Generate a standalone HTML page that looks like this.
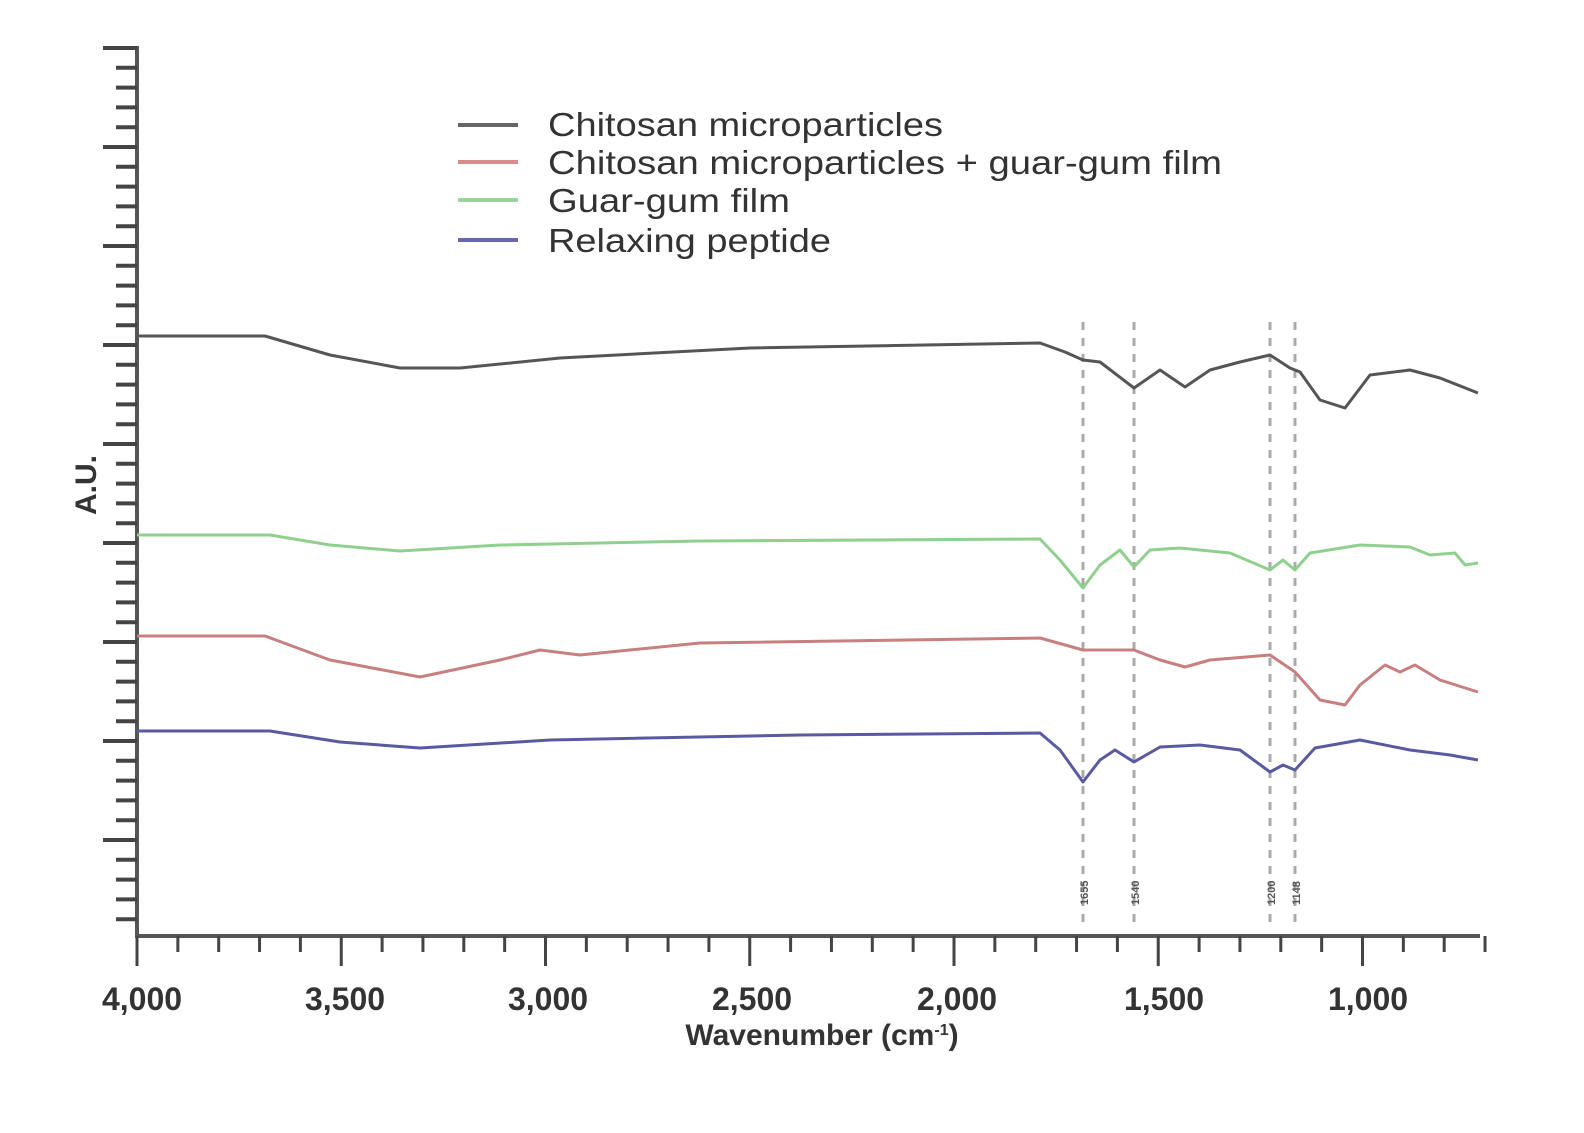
<!DOCTYPE html>
<html><head><meta charset="utf-8"><style>
html,body{margin:0;padding:0;background:#fff;}
svg{display:block;font-family:"Liberation Sans",Arial,sans-serif;}
</style></head><body>
<svg width="1584" height="1133" viewBox="0 0 1584 1133" xmlns="http://www.w3.org/2000/svg">
<rect width="1584" height="1133" fill="#fff"/>
<g stroke="#555" stroke-width="4" fill="none">
<line x1="137" y1="46" x2="137" y2="937"/>
<line x1="135" y1="936" x2="1480" y2="936"/>
</g>
<g id="yt" stroke="#444" stroke-width="4"></g>
<g id="xt" stroke="#444" stroke-width="3"></g>
<g stroke="#aaa" stroke-width="3" stroke-dasharray="8,8">
<line x1="1083" y1="322" x2="1083" y2="930"/>
<line x1="1134" y1="322" x2="1134" y2="930"/>
<line x1="1270" y1="322" x2="1270" y2="930"/>
<line x1="1295" y1="322" x2="1295" y2="930"/>
</g>
<g font-size="11" fill="#555" font-weight="bold">
<text transform="translate(1088,905) rotate(-90)">1655</text>
<text transform="translate(1139,905) rotate(-90)">1540</text>
<text transform="translate(1275,905) rotate(-90)">1200</text>
<text transform="translate(1300,905) rotate(-90)">1148</text>
</g>
<g fill="none" stroke-width="3" stroke-linejoin="round">
<polyline stroke="#555" points="137,336 265,336 330,355 400,368 460,368 560,358 750,348 1040,343 1065,352 1083,360 1100,362 1134,388 1160,370 1185,387 1210,370 1240,362 1270,355 1290,368 1300,372 1320,400 1345,408 1370,375 1410,370 1440,378 1478,393"/>
<polyline stroke="#8fd08f" points="137,535 270,535 330,545 400,551 500,545 700,541 1040,539 1060,560 1083,588 1100,565 1120,550 1134,567 1150,550 1180,548 1230,553 1270,570 1283,560 1295,570 1310,553 1360,545 1410,547 1430,555 1455,553 1465,565 1478,563"/>
<polyline stroke="#c77f7f" points="137,636 265,636 330,660 420,677 500,660 540,650 580,655 700,643 1040,638 1083,650 1134,650 1160,660 1185,667 1210,660 1270,655 1295,672 1320,700 1345,705 1360,685 1385,665 1400,672 1415,665 1440,680 1478,692"/>
<polyline stroke="#5a5aa0" points="137,731 270,731 340,742 420,748 550,740 800,735 1040,733 1060,750 1083,782 1100,760 1115,750 1134,762 1160,747 1200,745 1240,750 1270,772 1283,765 1295,770 1315,748 1360,740 1410,750 1450,755 1478,760"/>
</g>
<g stroke-width="4">
<line x1="458" y1="125" x2="518" y2="125" stroke="#666"/>
<line x1="458" y1="162" x2="518" y2="162" stroke="#d98a8a"/>
<line x1="458" y1="200" x2="518" y2="200" stroke="#9ad49a"/>
<line x1="458" y1="240" x2="518" y2="240" stroke="#6666aa"/>
</g>
<g font-size="33" fill="#333">
<text x="548" y="136" textLength="395" lengthAdjust="spacingAndGlyphs">Chitosan microparticles</text>
<text x="548" y="174" textLength="674" lengthAdjust="spacingAndGlyphs">Chitosan microparticles + guar-gum film</text>
<text x="548" y="212" textLength="242" lengthAdjust="spacingAndGlyphs">Guar-gum film</text>
<text x="548" y="252" textLength="283" lengthAdjust="spacingAndGlyphs">Relaxing peptide</text>
</g>
<g font-size="32" fill="#333" font-weight="bold" text-anchor="middle">
<text x="142" y="1010">4,000</text>
<text x="345" y="1010">3,500</text>
<text x="548" y="1010">3,000</text>
<text x="752" y="1010">2,500</text>
<text x="957" y="1010">2,000</text>
<text x="1164" y="1010">1,500</text>
<text x="1368" y="1010">1,000</text>
</g>
<g font-size="30" fill="#333" font-weight="bold" text-anchor="middle">
<text x="822" y="1045">Wavenumber (cm<tspan font-size="16" dy="-10">-1</tspan><tspan dy="10">)</tspan></text>
<text transform="translate(96,485) rotate(-90)">A.U.</text>
</g>
<script>
var ns="http://www.w3.org/2000/svg";
var yt=document.getElementById("yt");
for(var i=0;i<=44;i++){var y=48+i*19.8;if(y>932)break;var maj=(i%5==0);var l=document.createElementNS(ns,"line");l.setAttribute("x1",maj?103:116);l.setAttribute("x2",137);l.setAttribute("y1",y);l.setAttribute("y2",y);yt.appendChild(l);}
var xt=document.getElementById("xt");
for(var w=4000;w>=700;w-=100){var x=137+(4000-w)*0.4085;var maj=(w%500==0);var l=document.createElementNS(ns,"line");l.setAttribute("x1",x);l.setAttribute("x2",x);l.setAttribute("y1",936);l.setAttribute("y2",maj?966:952);xt.appendChild(l);}
</script>
</svg>
</body></html>
